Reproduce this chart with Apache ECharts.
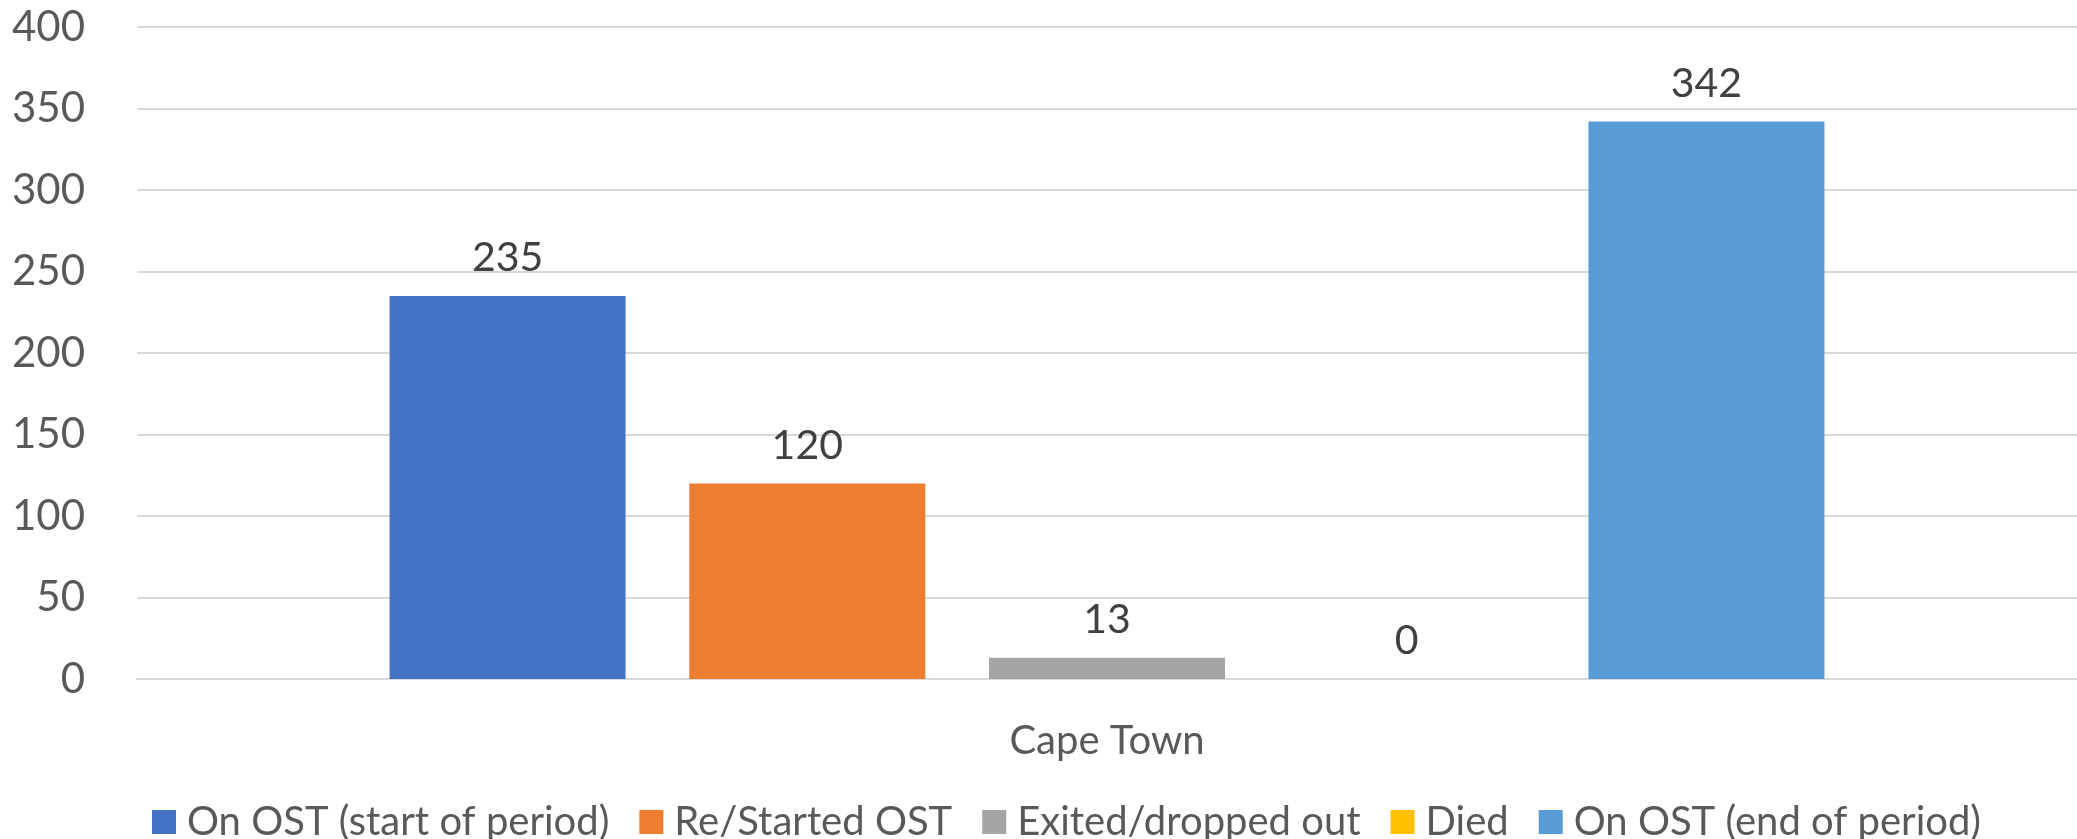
<!DOCTYPE html>
<html>
<head>
<meta charset="utf-8">
<title>OST - Cape Town</title>
<script src="https://cdn.jsdelivr.net/npm/echarts@6/dist/echarts.min.js"></script>
<style>
  html, body { margin: 0; padding: 0; background: #fff; }
  #chart { width: 2077px; height: 839px; }
</style>
</head>
<body>
<div id="chart"></div>
<script>
// data
var categories = ['Cape Town']
var seriesNames = ['On OST (start of period)', 'Re/Started OST', 'Exited/dropped out', 'Died', 'On OST (end of period)']
var seriesValues = [[235], [120], [13], [0], [342]]
var seriesColors = ['#4472C4', '#ED7D31', '#A5A5A5', '#FFC000', '#5B9BD5']
var yTicks = { min: 0, max: 400, interval: 50 }

var font = 'Lato'

var chart = echarts.init(document.getElementById('chart'))

var series = seriesNames.map(function (name, i) {
  return {
    name: name,
    type: 'bar',
    data: seriesValues[i],
    barWidth: 236,
    barGap: '27%',
    itemStyle: { color: seriesColors[i] },
    label: {
      show: true,
      position: 'top',
      distance: 18,
      color: '#404040',
      fontFamily: font,
      fontSize: 41,
      lineHeight: 40
    }
  }
})

chart.setOption({
  animation: false,
  grid: {
    left: 137,
    right: -3,
    top: 27,
    bottom: 160
  },
  legend: {
    data: seriesNames,
    left: 147,
    top: 797,
    itemWidth: 24,
    itemHeight: 24,
    itemGap: 30,
    icon: 'rect',
    textStyle: {
      fontFamily: font,
      fontSize: 40,
      color: '#595959',
      padding: [0, 0, 0, 6]
    }
  },
  xAxis: {
    type: 'category',
    data: categories,
    axisTick: { show: false },
    axisLine: { lineStyle: { color: '#D9D9D9', width: 2 } },
    axisLabel: {
      margin: 42,
      fontFamily: font,
      fontSize: 40,
      color: '#595959'
    }
  },
  yAxis: {
    type: 'value',
    min: yTicks.min,
    max: yTicks.max,
    interval: yTicks.interval,
    axisLine: { show: false },
    axisTick: { show: false },
    splitLine: { lineStyle: { color: '#D9D9D9', width: 2 } },
    axisLabel: {
      margin: 52,
      fontFamily: font,
      fontSize: 42,
      color: '#595959'
    }
  },
  series: series
})
</script>
</body>
</html>
